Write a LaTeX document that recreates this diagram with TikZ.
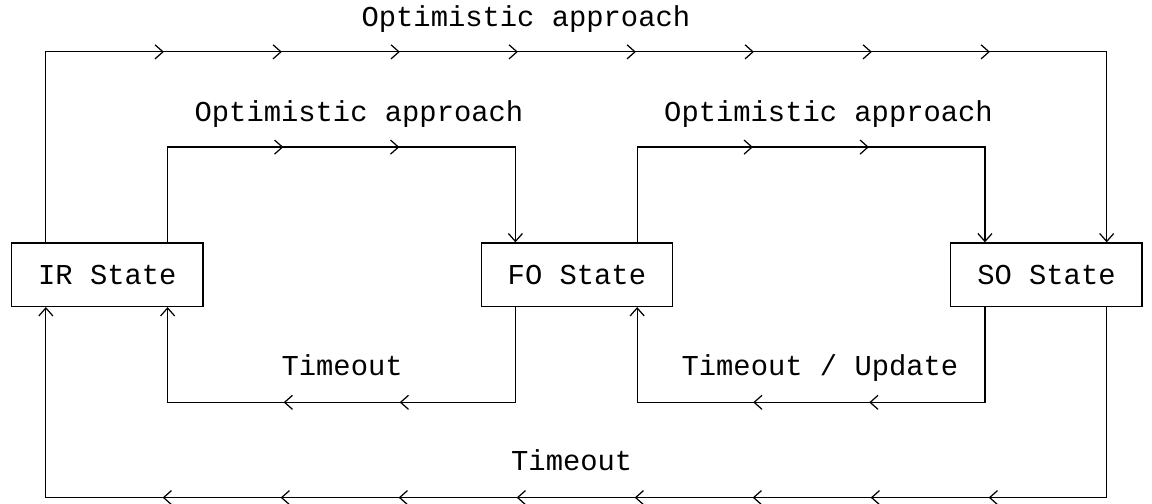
\documentclass[tikz,border=0pt]{standalone}
\usepackage{fontspec}
\setmonofont{Liberation Mono}
\usetikzlibrary{arrows.meta, decorations.markings}

\newcommand{\cw}{0.3478cm}

\begin{document}
\begin{tikzpicture}[x=0.3478cm, y=0.635cm,
        every node/.style={font=\ttfamily\fontsize{16.4}{19}\selectfont},
        statebox/.style={draw, line width=0.7pt, minimum width=11*\cw, minimum height=1.27cm, inner sep=0pt},
        lbl/.style={anchor=mid west, inner sep=0pt},
        flow/.style={line width=0.7pt, -{Straight Barb[length=4.5pt,width=8pt]}},
        chevrons/.style n args={3}{postaction={decorate}, decoration={markings,
            mark=between positions #1 and #2 step #3 with {\arrow{Straight Barb[length=4.5pt,width=8pt]}}}}]
                \useasboundingbox (-0.673,0.652) rectangle (65.57,-15.22);

                \node[statebox] (ir) at (5.5,-8) {IR State};
                \node[statebox] (fo) at (32.5,-8) {FO State};
                \node[statebox] (so) at (59.5,-8) {SO State};

                \node[lbl] (optall) at (20.1,-0.05) {Optimistic approach};
                \node[lbl] (optfo) at (10.5,-3.05) {Optimistic approach};
                \node[lbl] (optso) at (37.5,-3.05) {Optimistic approach};
                \node[lbl] (tofo) at (15.5,-11.05) {Timeout};
                \node[lbl] (toso) at (38.5,-11.05) {Timeout / Update};
                \node[lbl] (toall) at (28.7,-14.05) {Timeout};

                % upper routes
                \draw[flow, chevrons={6.17cm}{22.8cm}{2.36cm}] ([xshift=2*\cw]ir.north west) -- ++(0,6) -| ([xshift=9*\cw]so.north west);
                \draw[flow, chevrons={4.22cm}{6.6cm}{2.32cm}] ([xshift=9*\cw]ir.north west) -- ++(0,3) -| ([xshift=2*\cw]fo.north west);
                \draw[flow, chevrons={4.22cm}{6.6cm}{2.32cm}] ([xshift=9*\cw]fo.north west) -- ++(0,3) -| ([xshift=2*\cw]so.north west);

                % lower routes
                \draw[flow, chevrons={4.22cm}{6.6cm}{2.32cm}] ([xshift=2*\cw]fo.south west) -- ++(0,-3) -| ([xshift=9*\cw]ir.south west);
                \draw[flow, chevrons={4.22cm}{6.6cm}{2.32cm}] ([xshift=2*\cw]so.south west) -- ++(0,-3) -| ([xshift=9*\cw]fo.south west);
                \draw[flow, chevrons={6.17cm}{22.8cm}{2.36cm}] ([xshift=9*\cw]so.south west) -- ++(0,-6) -| ([xshift=2*\cw]ir.south west);
            \end{tikzpicture}
\end{document}
